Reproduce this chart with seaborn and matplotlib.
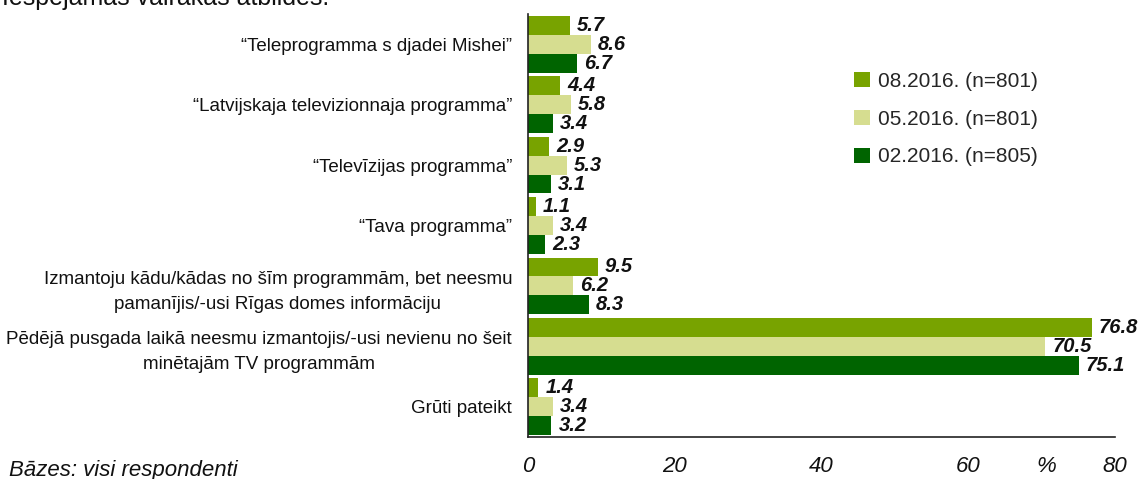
import pandas as pd
import numpy as np
import matplotlib
matplotlib.use('Agg')
import matplotlib.pyplot as plt
import seaborn as sns

# --- data ---
categories = [
    '“Teleprogramma s djadei Mishei”',
    '“Latvijskaja televizionnaja programma”',
    '“Televīzijas programma”',
    '“Tava programma”',
    'Izmantoju kādu/kādas no šīm programmām, bet neesmu\npamanījis/-usi Rīgas domes informāciju',
    'Pēdējā pusgada laikā neesmu izmantojis/-usi nevienu no šeit\nminētajām TV programmām',
    'Grūti pateikt',
]
periods = ['08.2016. (n=801)', '05.2016. (n=801)', '02.2016. (n=805)']
vals_08 = [5.7, 4.4, 2.9, 1.1, 9.5, 76.8, 1.4]
vals_05 = [8.6, 5.8, 5.3, 3.4, 6.2, 70.5, 3.4]
vals_02 = [6.7, 3.4, 3.1, 2.3, 8.3, 75.1, 3.2]
colors = ['#78A300', '#D6DD90', '#006400']
x_ticks = [0, 20, 40, 60, 80]

title_txt = 'Iespējamas vairākas atbildes.'
footer_txt = 'Bāzes: visi respondenti'

# long format for seaborn
rows = []
for per, vals in zip(periods, [vals_08, vals_05, vals_02]):
    for cat, v in zip(categories, vals):
        rows.append({'category': cat, 'period': per, 'value': v})
df = pd.DataFrame(rows)

sns.set_style('white')
plt.rcParams['font.family'] = ['Liberation Sans', 'DejaVu Sans']

W, H = 1146, 479
fig = plt.figure(figsize=(W / 100, H / 100), dpi=100)
ax = fig.add_axes([528 / W, 1 - 437 / H, (1115 - 528) / W, (437 - 14) / H])

sns.barplot(data=df, x='value', y='category', hue='period', orient='h',
            order=categories, hue_order=periods, palette=colors,
            width=0.94, saturation=1, linewidth=0, ax=ax)

# value labels
for cont in ax.containers:
    ax.bar_label(cont, fmt='%.1f', padding=5, fontsize=14.5,
                 fontweight='bold', fontstyle='italic', color='#111111')

ax.set_xlim(0, 80)
ax.set_ylim(6.5, -0.5)
ax.set_xticks(x_ticks)
ax.set_xticklabels([str(t) for t in x_ticks], fontsize=16, fontstyle='italic')
ax.set_xlabel('')
ax.set_ylabel('')
for lbl in ax.get_yticklabels():
    lbl.set_fontsize(13.5)
    lbl.set_multialignment('center')
    lbl.set_linespacing(1.6)
    lbl.set_color('#111111')

ax.tick_params(axis='y', length=0, pad=11.5)
ax.tick_params(axis='x', length=4, width=1, direction='out', pad=10, colors='#111111')
for s in ['top', 'right']:
    ax.spines[s].set_visible(False)
for s in ['left', 'bottom']:
    ax.spines[s].set_color('#222222')
    ax.spines[s].set_linewidth(1.2)

# "%" next to the axis ticks
ax.text(1046 / W, 1 - 467 / H, '%', transform=fig.transFigure, ha='center',
        va='center', fontsize=16, fontstyle='italic', color='#111111')

# legend
handles, labels = ax.get_legend_handles_labels()
ax.legend(handles, labels, loc='upper left', bbox_to_anchor=(854 / W, 1 - 72 / H),
          bbox_transform=fig.transFigure, frameon=False, fontsize=15,
          handlelength=0.75, handleheight=0.75, handletextpad=0.4,
          labelspacing=0.9, borderpad=0, borderaxespad=0)

fig.text(2 / W, 1 - 5 / H, title_txt, ha='left', va='baseline', fontsize=18, color='#111111')
fig.text(9 / W, 1 - 476 / H, footer_txt, ha='left', va='baseline', fontsize=16,
         fontstyle='italic', color='#111111')

fig.savefig('out.png', dpi=100)
